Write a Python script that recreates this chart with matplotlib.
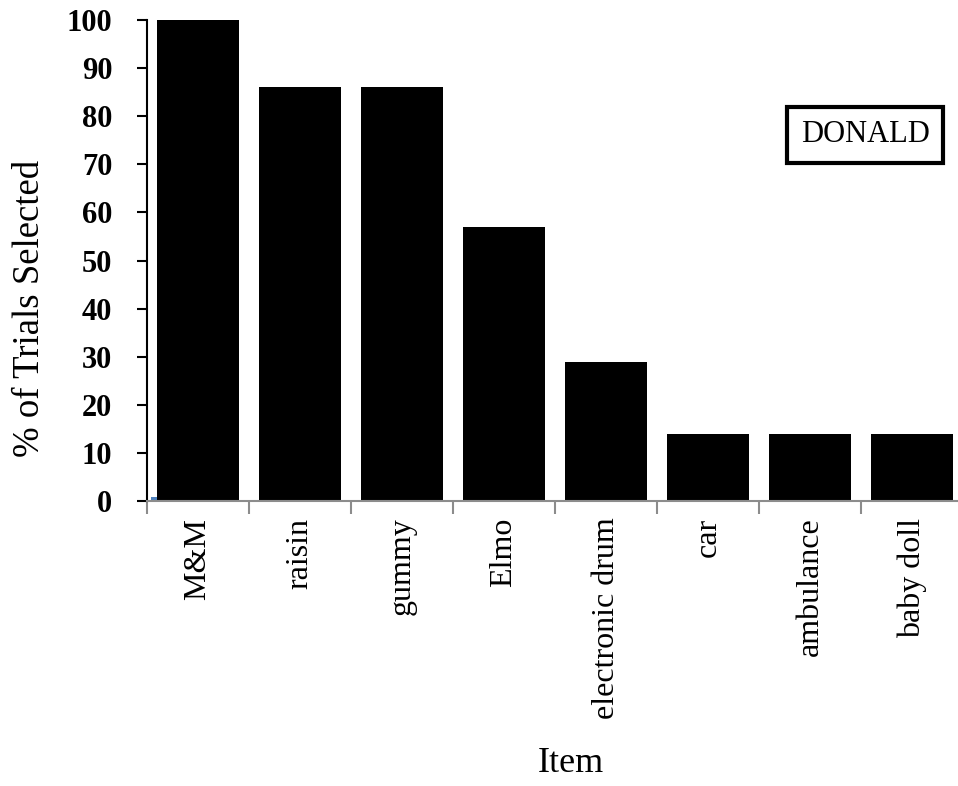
import matplotlib.pyplot as plt
import numpy as np

items = ["M&M", "raisin", "gummy", "Elmo", "electronic drum", "car", "ambulance", "baby doll"]
pct_selected = [100, 86, 86, 57, 29, 14, 14, 14]
# tiny second series visible only at the first category
other_series = [0.8, 0, 0, 0, 0, 0, 0, 0]
y_ticks = list(range(0, 101, 10))

plt.rcParams['font.family'] = ['Liberation Serif', 'DejaVu Serif']

fig = plt.figure(figsize=(9.58, 7.86), dpi=100)
ax = fig.add_axes([147 / 958, 285 / 786, 816 / 958, 481 / 786])

x = np.arange(len(items))
ax.bar(x, pct_selected, width=0.8, color='black', zorder=2)
ax.bar(x - 0.4, other_series, width=-0.06, align='edge', color='#4F81BD', zorder=2)

ax.set_xlim(-0.5, len(items) - 0.5)
ax.set_ylim(0, 100)

ax.set_yticks(y_ticks)
ax.set_yticklabels([str(t) for t in y_ticks], fontsize=22, fontweight='bold')
ax.tick_params(axis='y', direction='out', length=7, width=1.5, color='black', pad=18)

ax.set_xticks(x)
ax.set_xticklabels(items, rotation=90, fontsize=23, va='top')
ax.tick_params(axis='x', which='major', length=0, pad=12)
ax.set_xticks(np.arange(-0.5, len(items), 1.0), minor=True)
ax.tick_params(axis='x', which='minor', direction='out', length=9, width=1.5, color='#8c8c8c')

for side in ['top', 'right']:
    ax.spines[side].set_visible(False)
ax.spines['left'].set_color('black')
ax.spines['left'].set_linewidth(1.5)
ax.spines['bottom'].set_color('#8c8c8c')
ax.spines['bottom'].set_linewidth(1.5)

fig.text(30 / 958, 1 - 308 / 786, "% of Trials Selected", rotation=90,
         fontsize=26.5, ha='center', va='center')
fig.text(571 / 958, 1 - 764 / 786, "Item", fontsize=26, ha='center', va='center')

fig.text(865 / 958, 1 - 135 / 786, "DONALD", fontsize=22, ha='center', va='center',
         bbox=dict(boxstyle='square,pad=0.44', facecolor='white', edgecolor='black', linewidth=3))

fig.savefig("out.png", dpi=100)
plt.close()
